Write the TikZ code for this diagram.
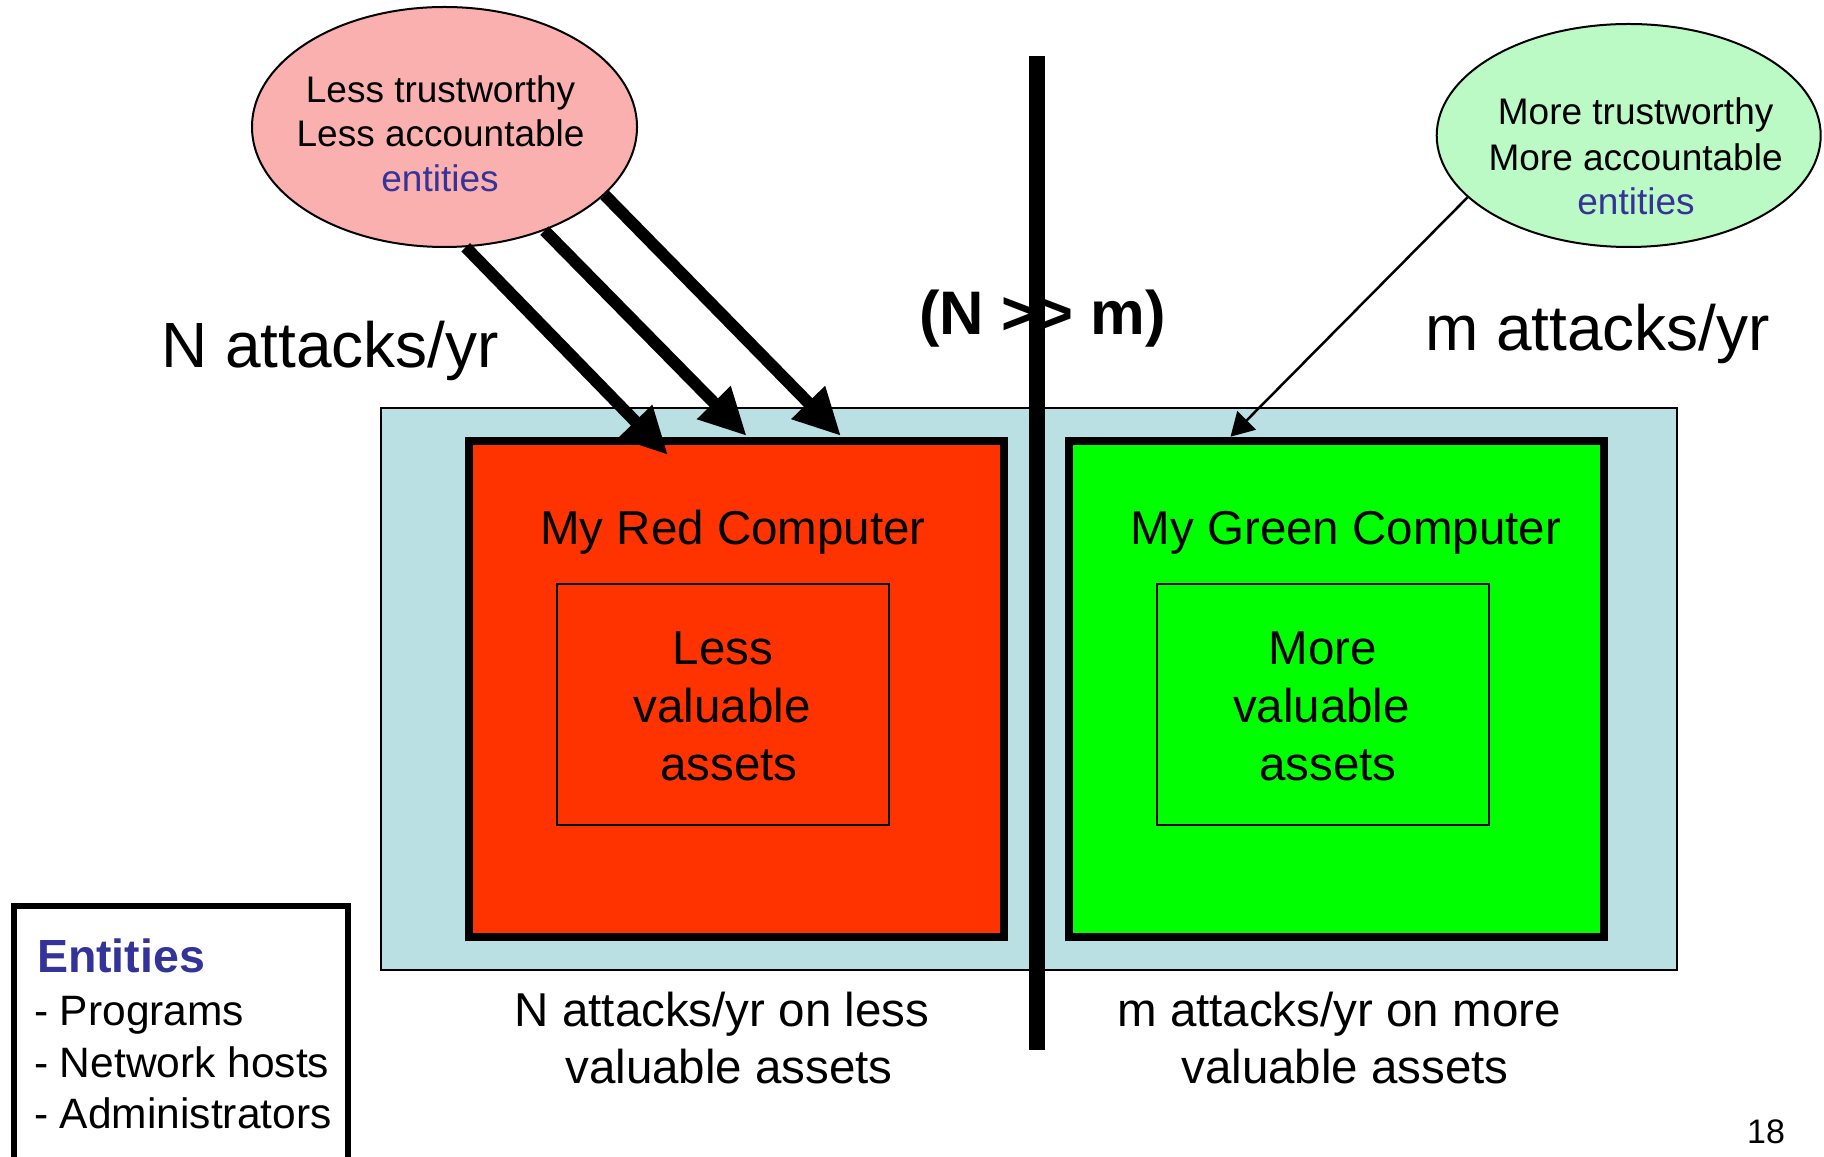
\documentclass[tikz,border=0pt]{standalone}
\usepackage{fontspec}
\setmainfont{Liberation Sans}
\usetikzlibrary{arrows.meta,shapes.geometric}
\definecolor{pinkfill}{HTML}{FBB0B0}
\definecolor{greenfill}{HTML}{BBFAC4}
\definecolor{bluefill}{HTML}{BBE0E3}
\definecolor{redfill}{HTML}{FF3300}
\definecolor{limefill}{HTML}{00FF00}
\definecolor{entblue}{HTML}{333399}
\begin{document}
\begin{tikzpicture}[x=0.4pt,y=-0.4pt,
  txt/.style={inner sep=0pt, outer sep=0pt, anchor=base},
  txtl/.style={inner sep=0pt, outer sep=0pt, anchor=base west},
  ovaltext/.style={txt, font=\fontsize{14.8pt}{17.8pt}\selectfont},
  bigtext/.style={txt, font=\fontsize{25.6pt}{30pt}\selectfont},
  midtext/.style={txt, font=\fontsize{19pt}{23pt}\selectfont},
  listtext/.style={txtl, font=\fontsize{17pt}{20.6pt}\selectfont},
  oval/.style={ellipse, draw=black, line width=0.8pt, inner sep=0pt},
  panel/.style={rectangle, draw=black, inner sep=0pt},
  bigarrow/.style={line width=4.8pt, -{Triangle[length=18.8pt,width=17.6pt]}},
  thinarrow/.style={line width=1pt, -{Triangle[length=9.2pt,width=10.4pt]}}
]
\useasboundingbox (0,0) rectangle (1824,1157);

% background panel and computers
\node[panel, fill=bluefill, line width=1pt, minimum width=518.4pt, minimum height=224.8pt] (blue) at (1029,689) {};
\node[panel, fill=redfill, line width=3.2pt, minimum width=214pt, minimum height=198.4pt] (red) at (736.5,689) {};
\node[panel, fill=limefill, line width=3.2pt, minimum width=214pt, minimum height=198.4pt] (green) at (1336.5,689) {};
\node[panel, line width=0.8pt, minimum width=132.8pt, minimum height=96.4pt] (redin) at (723,704.5) {};
\node[panel, line width=0.8pt, minimum width=132.6pt, minimum height=96.4pt] (greenin) at (1322.75,704.5) {};

% ovals
\node[oval, fill=pinkfill, minimum width=154pt, minimum height=96pt] (pink) at (444.5,127) {};
\node[oval, fill=greenfill, minimum width=153.6pt, minimum height=89.2pt] (mint) at (1628.7,135.5) {};

\node[ovaltext] (p1) at (440.6,102.5) {Less trustworthy};
\node[ovaltext] (p2) at (440.6,146.2) {Less accountable};
\node[ovaltext, text=entblue] (p3) at (440,191.3) {entities};
\node[ovaltext] (g1) at (1635.6,125) {More trustworthy};
\node[ovaltext] (g2) at (1635.6,170.5) {More accountable};
\node[ovaltext, text=entblue] (g3) at (1636,215) {entities};

% arrows
\coordinate (t1) at (668,455);
\coordinate (t2) at (746.7,436);
\coordinate (t3) at (841,436);
\coordinate (t4) at (1230.5,436.7);
\draw[bigarrow] (pink.-80.5) -- (t1);
\draw[bigarrow] (pink.-46.3) -- (t2);
\draw[bigarrow] (pink.-23.9) -- (t3);
\draw[thinarrow] (mint.201.7) -- (t4);

% labels
\node[bigtext] (nl) at (330,368) {N attacks/yr};
\node[bigtext] (ml) at (1597.5,351) {m attacks/yr};
\node[txt, font=\fontsize{24.6pt}{29pt}\selectfont\bfseries] (cmp) at (1042.5,335) {(N >{}> m)};

\node[midtext] (rt) at (733,544) {My Red Computer};
\node[midtext] (gt) at (1346,544) {My Green Computer};
\node[midtext] (ra1) at (723,664) {Less};
\node[midtext] (ra2) at (722,722.4) {valuable};
\node[midtext] (ra3) at (729,780) {assets};
\node[midtext] (ga1) at (1323,664) {More};
\node[midtext] (ga2) at (1321.5,722.4) {valuable};
\node[midtext] (ga3) at (1328,780) {assets};

\node[midtext] (rb1) at (722,1026) {N attacks/yr on less};
\node[midtext] (rb2) at (729,1083) {valuable assets};
\node[midtext] (gb1) at (1339,1026) {m attacks/yr on more};
\node[midtext] (gb2) at (1345,1083) {valuable assets};

% divider bar
\coordinate (bartop) at (1037,56);
\coordinate (barbot) at (1037,1050);
\draw[line width=6.4pt] (bartop) -- (barbot);

% entities legend
\coordinate (la) at (13.5,1175);
\coordinate (lb) at (348,906);
\coordinate (lc) at (348,1175);
\draw[line width=2.4pt] (la) |- (lb) -- (lc);
\node[txtl, text=entblue, font=\fontsize{18.6pt}{22pt}\selectfont\bfseries] (et) at (37,972) {Entities};
\node[listtext] (e1) at (34,1025.5) {- Programs};
\node[listtext] (e2) at (34,1077.5) {- Network hosts};
\node[listtext] (e3) at (34,1128.5) {- Administrators};

\node[txt, font=\fontsize{13.6pt}{16pt}\selectfont] (pg) at (1766,1143) {18};
\end{tikzpicture}
\end{document}
